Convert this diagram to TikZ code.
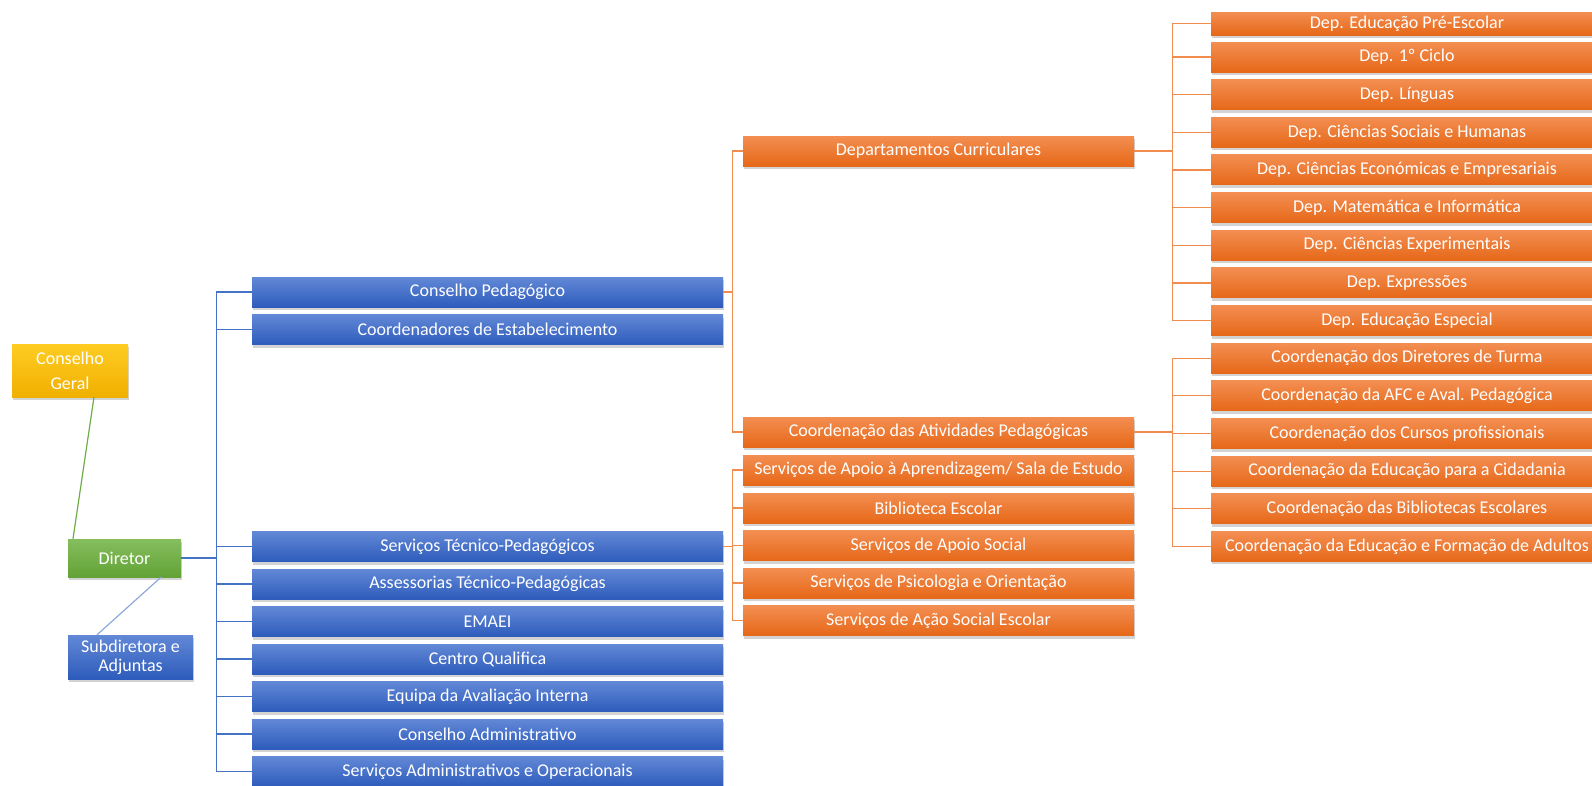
\documentclass[tikz,border=0pt]{standalone}
\usepackage{fontspec}
\setmainfont{Carlito}
\usetikzlibrary{shadows}
\definecolor{otop}{RGB}{243,142,82}
\definecolor{obot}{RGB}{230,104,24}
\definecolor{btop}{RGB}{98,136,214}
\definecolor{bbot}{RGB}{46,92,188}
\definecolor{gtop}{RGB}{134,190,94}
\definecolor{gbot}{RGB}{98,162,54}
\definecolor{ytop}{RGB}{255,204,34}
\definecolor{ybot}{RGB}{240,176,0}
\definecolor{olinec}{RGB}{240,140,78}
\definecolor{blinec}{RGB}{68,114,196}
\definecolor{glinec}{RGB}{112,173,71}
\definecolor{lblinec}{RGB}{140,168,220}
\begin{document}
\begin{tikzpicture}[x=1pt,y=-1pt,
  box/.style={rectangle, inner sep=0pt, text=white, font=\fontsize{18}{20}\selectfont,
    drop shadow={shadow xshift=0.5pt, shadow yshift=-3pt, opacity=0.35}},
  bluebox/.style={box, top color=btop, bottom color=bbot, minimum width=471pt, minimum height=30pt},
  obox/.style={box, top color=otop, bottom color=obot, minimum width=391pt, minimum height=30pt},
  rbox/.style={box, top color=otop, bottom color=obot, minimum width=392pt, minimum height=30pt},
  oline/.style={draw=olinec, line width=1.2pt},
  bline/.style={draw=blinec, line width=1.2pt},
  gline/.style={draw=glinec, line width=1.2pt},
  lbline/.style={draw=lblinec, line width=1.2pt}]
\useasboundingbox (0,0) rectangle (1592,785);
\clip (0,0) rectangle (1592,785);

% left column
\node[box, top color=ytop, bottom color=ybot, minimum width=116pt, minimum height=53pt,
  align=center, font=\fontsize{18}{25}\selectfont] (cg) at (70,370.5) {Conselho\\Geral};
\node[box, top color=gtop, bottom color=gbot, minimum width=113pt, minimum height=38pt] (dir) at (124.5,558) {Diretor};
\node[box, top color=btop, bottom color=bbot, minimum width=125pt, minimum height=44pt,
  align=center, font=\fontsize{18}{19}\selectfont] (sub) at (130.5,657) {Subdiretora e\\Adjuntas};

% blue column
\node[bluebox] (b1) at (487.5,292) {Conselho Pedagógico};
\node[bluebox] (b2) at (487.5,329.5) {Coordenadores de Estabelecimento};
\node[bluebox] (b3) at (487.5,546.5) {Serviços Técnico-Pedagógicos};
\node[bluebox] (b4) at (487.5,584) {Assessorias Técnico-Pedagógicas};
\node[bluebox] (b5) at (487.5,621.5) {EMAEI};
\node[bluebox] (b6) at (487.5,659) {Centro Qualifica};
\node[bluebox] (b7) at (487.5,696.5) {Equipa da Avaliação Interna};
\node[bluebox] (b8) at (487.5,734) {Conselho Administrativo};
\node[bluebox] (b9) at (487.5,771.5) {Serviços Administrativos e Operacionais};

% middle orange column
\node[obox] (dc) at (938.5,151) {Departamentos Curriculares};
\node[obox] (ca) at (938.5,432) {Coordenação das Atividades Pedagógicas};
\node[obox] (s1) at (938.5,470) {Serviços de Apoio à Aprendizagem/ Sala de Estudo};
\node[obox] (s2) at (938.5,508) {Biblioteca Escolar};
\node[obox] (s3) at (938.5,545.5) {Serviços de Apoio Social};
\node[obox] (s4) at (938.5,583) {Serviços de Psicologia e Orientação};
\node[obox] (s5) at (938.5,620.5) {Serviços de Ação Social Escolar};

% right column
\node[rbox, minimum height=23pt] (r1) at (1407,23.5) {Dep. Educação Pré-Escolar};
\node[rbox] (r2) at (1407,57) {Dep. 1º Ciclo};
\node[rbox] (r3) at (1407,94.65) {Dep. Línguas};
\node[rbox] (r4) at (1407,132.3) {Dep. Ciências Sociais e Humanas};
\node[rbox] (r5) at (1407,169.95) {Dep. Ciências Económicas e Empresariais};
\node[rbox] (r6) at (1407,207.6) {Dep. Matemática e Informática};
\node[rbox] (r7) at (1407,245.25) {Dep. Ciências Experimentais};
\node[rbox] (r8) at (1407,282.9) {Dep. Expressões};
\node[rbox] (r9) at (1407,320.55) {Dep. Educação Especial};
\node[rbox] (c1) at (1407,358.2) {Coordenação dos Diretores de Turma};
\node[rbox] (c2) at (1407,395.85) {Coordenação da AFC e Aval. Pedagógica};
\node[rbox] (c3) at (1407,433.5) {Coordenação dos Cursos profissionais};
\node[rbox] (c4) at (1407,471.15) {Coordenação da Educação para a Cidadania};
\node[rbox] (c5) at (1407,508.8) {Coordenação das Bibliotecas Escolares};
\node[rbox] (c6) at (1407,546.45) {Coordenação da Educação e Formação de Adultos};

% connectors
\draw[gline] ([xshift=24pt]cg.south) -- ([xshift=-51.5pt]dir.north);
\draw[lbline] ([xshift=36.5pt]dir.south) -- ([xshift=-33.5pt]sub.north);
\foreach \i in {1,...,9}
  \draw[bline] (dir.east) -| ([xshift=-35pt]b\i.west) -- (b\i.west);
\foreach \n in {dc,ca}
  \draw[oline] (b1.east) -| ([xshift=-10pt]\n.west) -- (\n.west);
\foreach \i in {1,...,5}
  \draw[oline] (b3.east) -| ([xshift=-10pt]s\i.west) -- (s\i.west);
\foreach \i in {1,...,9}
  \draw[oline] (dc.east) -| ([xshift=-38pt]r\i.west) -- (r\i.west);
\foreach \i in {1,...,6}
  \draw[oline] (ca.east) -| ([xshift=-38pt]c\i.west) -- (c\i.west);
\end{tikzpicture}
\end{document}
